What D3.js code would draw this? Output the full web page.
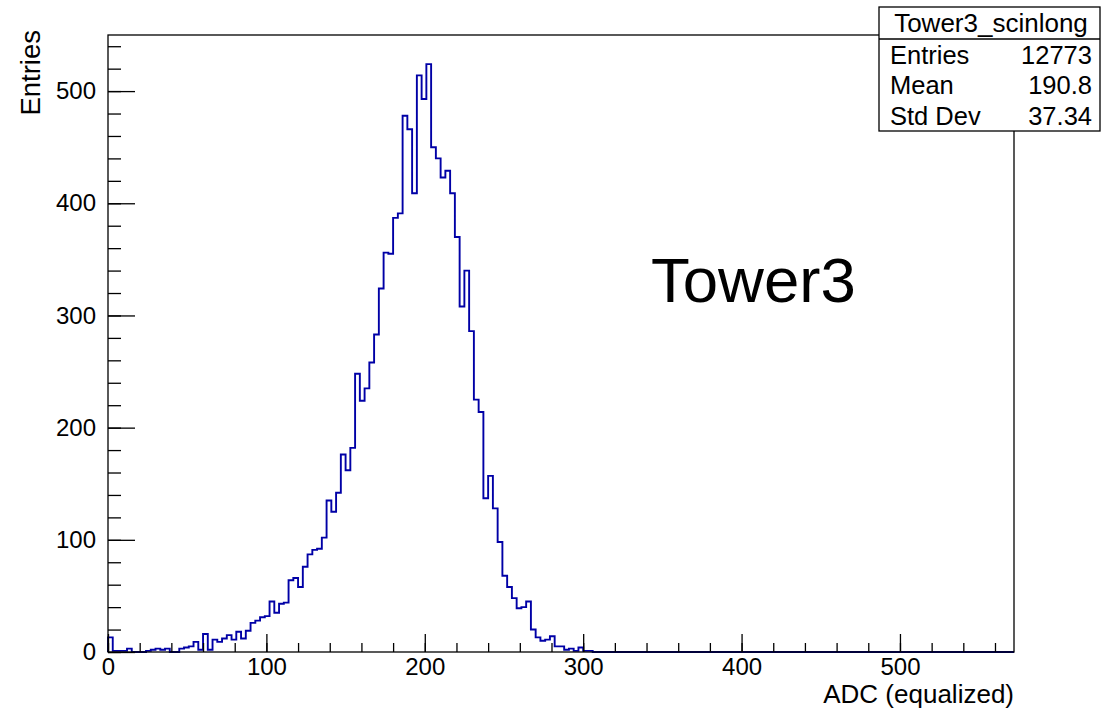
<!DOCTYPE html>
<html>
<head>
<meta charset="utf-8">
<script src="https://cdn.jsdelivr.net/npm/d3@7"></script>
<style>
    body { margin: 0; background: #fff; }
    svg { display: block; font-family: "Liberation Sans", Arial, Helvetica, sans-serif; }
</style>
</head>
<body>
<div id="chart"></div>
<script>
// histogram definition (ADC, equalized), 3 units per bin starting at 0
var binLow = 0,
    binWidth = 3,
    xMax = 572,
    yMax = 550;

// bin contents (bins after the last one are empty)
var counts = [
    13, 1, 1, 1, 3, 0, 0, 0, 1, 2,
    3, 2, 3, 0, 0, 3, 4, 5, 9, 2,
    16, 2, 11, 9, 12, 15, 11, 18, 12, 19,
    26, 28, 31, 32, 45, 35, 43, 44, 64, 66,
    58, 76, 87, 91, 92, 102, 135, 125, 142, 176,
    162, 182, 248, 224, 235, 258, 283, 324, 356, 355,
    387, 391, 478, 466, 409, 514, 493, 524, 450, 440,
    423, 429, 409, 370, 308, 340, 286, 225, 214, 137,
    157, 128, 98, 68, 58, 48, 39, 40, 45, 20,
    13, 10, 11, 14, 5, 5, 2, 3, 1, 4,
    1, 1
];

var xMajor = [0, 100, 200, 300, 400, 500];
var xMinor = d3.range(0, 561, 20);
var yMajor = [0, 100, 200, 300, 400, 500];
var yMinor = d3.range(0, 541, 20);

var histName = "Tower3_scinlong";
var statNames = ["Entries", "Mean", "Std Dev"];
var statValues = ["12773", "190.8", "37.34"];

var width = 1102,
    height = 709;

var frame = { left: 108, right: 1014, top: 35, bottom: 652 };

var svg = d3.select("#chart")
    .append("svg")
    .attr("width", width)
    .attr("height", height);

var x = d3.scaleLinear().domain([0, xMax]).range([frame.left, frame.right]);
var y = d3.scaleLinear().domain([0, yMax]).range([frame.bottom, frame.top]);

// histogram outline as a step line
var pts = [[binLow, 0]];
counts.forEach(function (c, i) {
    pts.push([binLow + i * binWidth, c]);
});
pts.push([binLow + counts.length * binWidth, 0]);
pts.push([xMax, 0]);

var line = d3.line()
    .x(function (d) { return x(d[0]); })
    .y(function (d) { return y(d[1]); })
    .curve(d3.curveStepAfter);

svg.append("path")
    .datum(pts)
    .attr("d", line)
    .attr("fill", "none")
    .attr("stroke", "#0000a6")
    .attr("stroke-width", 1.9);

// frame
svg.append("rect")
    .attr("x", frame.left)
    .attr("y", frame.top)
    .attr("width", frame.right - frame.left)
    .attr("height", frame.bottom - frame.top)
    .attr("fill", "none")
    .attr("stroke", "#000")
    .attr("stroke-width", 1.3);

// x axis, ticks pointing inside
var xMinorAxis = svg.append("g")
    .attr("transform", "translate(0," + frame.bottom + ")")
    .call(d3.axisBottom(x).tickValues(xMinor).tickSize(-9).tickFormat(""));
var xAxis = svg.append("g")
    .attr("transform", "translate(0," + frame.bottom + ")")
    .call(d3.axisBottom(x).tickValues(xMajor).tickSize(-18).tickPadding(6).tickFormat(d3.format("d")));

// y axis
var yMinorAxis = svg.append("g")
    .attr("transform", "translate(" + frame.left + ",0)")
    .call(d3.axisLeft(y).tickValues(yMinor).tickSize(-13).tickFormat(""));
var yAxis = svg.append("g")
    .attr("transform", "translate(" + frame.left + ",0)")
    .call(d3.axisLeft(y).tickValues(yMajor).tickSize(-27).tickPadding(12).tickFormat(d3.format("d")));

[xMinorAxis, xAxis, yMinorAxis, yAxis].forEach(function (g) {
    g.select(".domain").remove();
    g.selectAll("line").attr("stroke", "#000").attr("stroke-width", 1.3);
    g.selectAll("text")
        .attr("fill", "#000")
        .style("font-family", "'Liberation Sans', Arial, sans-serif")
        .style("font-size", "24px");
});

// axis titles
svg.append("text")
    .attr("x", frame.right)
    .attr("y", 703)
    .attr("text-anchor", "end")
    .style("font-size", "26px")
    .text("ADC (equalized)");

svg.append("text")
    .attr("transform", "translate(40," + (frame.top - 5) + ") rotate(-90)")
    .attr("text-anchor", "end")
    .style("font-size", "27.5px")
    .text("Entries");

// label inside the pad
svg.append("text")
    .attr("x", 651)
    .attr("y", 302)
    .style("font-size", "63.5px")
    .text("Tower3");

// stats box
var box = { left: 879, right: 1100, top: 7, bottom: 131, sep: 39 };
var stats = svg.append("g");
stats.append("rect")
    .attr("x", box.left)
    .attr("y", box.top)
    .attr("width", box.right - box.left)
    .attr("height", box.bottom - box.top)
    .attr("fill", "#fff")
    .attr("stroke", "#000")
    .attr("stroke-width", 1.3);
stats.append("line")
    .attr("x1", box.left).attr("x2", box.right)
    .attr("y1", box.sep).attr("y2", box.sep)
    .attr("stroke", "#000")
    .attr("stroke-width", 1.3);
stats.append("text")
    .attr("x", 991)
    .attr("y", 32)
    .attr("text-anchor", "middle")
    .style("font-size", "26px")
    .text(histName);

var rowY = d3.scaleBand().domain(statNames).range([box.sep, box.bottom]);
statNames.forEach(function (name, i) {
    stats.append("text")
        .attr("x", 890)
        .attr("y", rowY(name) + rowY.bandwidth() - 6)
        .style("font-size", "25.5px")
        .text(name);
    stats.append("text")
        .attr("x", 1092)
        .attr("y", rowY(name) + rowY.bandwidth() - 6)
        .attr("text-anchor", "end")
        .style("font-size", "25.5px")
        .text(statValues[i]);
});
</script>
</body>
</html>
